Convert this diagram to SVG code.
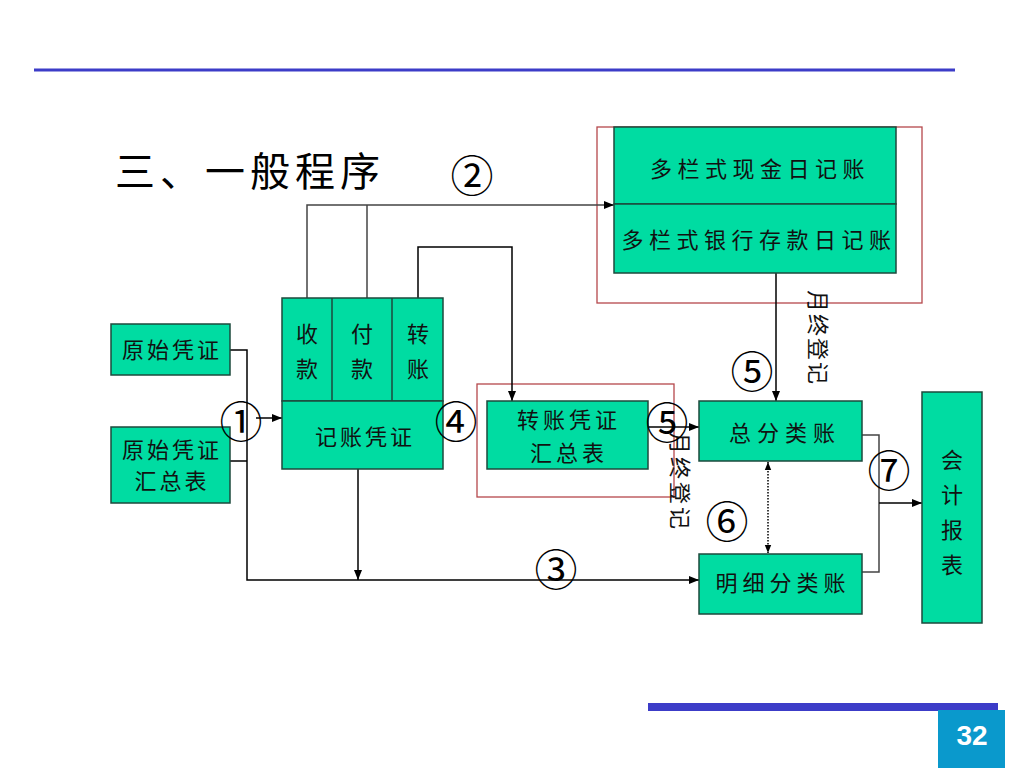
<svg xmlns="http://www.w3.org/2000/svg" width="1024" height="768" viewBox="0 0 1024 768">
<defs>
<marker id="arr" viewBox="0 0 10 10" refX="10" refY="5" markerWidth="10" markerHeight="10" markerUnits="userSpaceOnUse" orient="auto-start-reverse">
<path d="M0,1 L10,5 L0,9 z" fill="#000"/>
</marker>
<marker id="arrs" viewBox="0 0 10 10" refX="10" refY="5" markerWidth="8" markerHeight="8" markerUnits="userSpaceOnUse" orient="auto-start-reverse">
<path d="M0,1 L10,5 L0,9 z" fill="#000"/>
</marker>
<style>
.box{fill:#00DCA2;stroke:#1d4a3c;stroke-width:1.5}
.red{fill:none;stroke:#b5484c;stroke-width:1.3}
.t{font-family:"Noto Sans CJK SC","Noto Sans CJK JP",sans-serif;font-size:22px;fill:#111;text-anchor:middle}
.v{font-family:"Noto Sans CJK SC","Noto Sans CJK JP",sans-serif;font-size:22px;fill:#111;text-anchor:start}
.n{font-family:"Noto Sans CJK SC","Noto Sans CJK JP",sans-serif;font-size:43px;fill:#000;text-anchor:middle}
.c{fill:none;stroke:#000;stroke-width:1.5}
.c2{fill:none;stroke:#444;stroke-width:1.5}
</style>
</defs>
<rect width="1024" height="768" fill="#fff"/>
<rect x="34" y="68.5" width="921" height="3" fill="#3c3cc8"/>
<rect x="648" y="703" width="350" height="8" fill="#3c3cc8"/>
<rect x="938" y="710" width="67" height="58" fill="#0a99cc"/>
<text x="972" y="745" font-family="Liberation Sans,Arial,sans-serif" font-size="28" font-weight="bold" fill="#fff" text-anchor="middle">32</text>
<text x="115" y="186" font-family="Noto Sans CJK SC,sans-serif" font-size="40" letter-spacing="5" fill="#000">三、一般程序</text>

<g id="frames">
<rect class="red" x="597" y="127" width="325" height="176"/>
<rect class="red" x="477" y="384" width="197" height="113"/>
</g>

<g id="connectors">
<path class="c" d="M230,350 H247 V580 H699" marker-end="url(#arr)"/>
<path class="c" d="M230,461 H247"/>
<path class="c" d="M256,418 H282" marker-end="url(#arr)"/>
<path class="c2" d="M307,298 V205 H614" marker-end="url(#arr)"/>
<path class="c2" d="M367,298 V205"/>
<path class="c" d="M418,298 V247 H512 V401" marker-end="url(#arr)"/>
<path class="c" d="M358,469 V580" marker-end="url(#arr)"/>
<path class="c" d="M776,273 V401" marker-end="url(#arr)"/>
<path class="c" d="M648,427 H699" marker-end="url(#arr)"/>
<path d="M768,462 V553" fill="none" stroke="#000" stroke-width="1.5" stroke-dasharray="1.5,1.5" marker-start="url(#arrs)" marker-end="url(#arrs)"/>
<path class="c2" d="M862,435 H879 V572 H862"/>
<path class="c" d="M879,503 H922" marker-end="url(#arr)"/>
</g>

<g id="n-yuanshi">
<rect class="box" x="111" y="324" width="119" height="51"/>
<text class="t" x="172" y="358" font-size="21" letter-spacing="3">原始凭证</text>
</g>
<g id="n-yuanshi-huizong">
<rect class="box" x="111" y="427" width="119" height="76"/>
<text class="t" x="172" y="458" font-size="21" letter-spacing="3">原始凭证</text>
<text class="t" x="172" y="489" font-size="21" letter-spacing="3">汇总表</text>
</g>
<g id="n-pingzheng">
<rect class="box" x="282" y="298" width="161" height="103"/>
<line x1="332" y1="298" x2="332" y2="401" stroke="#1d4a3c" stroke-width="1.5"/>
<line x1="392" y1="298" x2="392" y2="401" stroke="#1d4a3c" stroke-width="1.5"/>
<text class="t" x="307" y="342" font-size="24">收</text>
<text class="t" x="307" y="377" font-size="24">款</text>
<text class="t" x="362" y="342" font-size="24">付</text>
<text class="t" x="362" y="377" font-size="24">款</text>
<text class="t" x="418" y="342" font-size="24">转</text>
<text class="t" x="418" y="377" font-size="24">账</text>
</g>
<g id="n-jizhang">
<rect class="box" x="282" y="401" width="161" height="68"/>
<text class="t" x="365" y="445" font-size="24" letter-spacing="3">记账凭证</text>
</g>
<g id="n-riji">
<rect class="box" x="614" y="127" width="282" height="77"/>
<rect class="box" x="614" y="204" width="282" height="69"/>
<text class="t" x="760" y="177" letter-spacing="5.5">多栏式现金日记账</text>
<text class="t" x="759" y="248" letter-spacing="5.5">多栏式银行存款日记账</text>
</g>
<g id="n-zhuanzhang">
<rect class="box" x="487" y="401" width="161" height="68"/>
<text class="t" x="569" y="428" letter-spacing="4">转账凭证</text>
<text class="t" x="569" y="461" letter-spacing="4">汇总表</text>
</g>
<g id="n-zongfen">
<rect class="box" x="699" y="401" width="163" height="60"/>
<text class="t" x="785" y="441" letter-spacing="6">总分类账</text>
</g>
<g id="n-mingxi">
<rect class="box" x="699" y="554" width="163" height="60"/>
<text class="t" x="783" y="591" letter-spacing="5">明细分类账</text>
</g>
<g id="n-baobiao">
<rect class="box" x="922" y="392" width="60" height="231"/>
<text class="t" x="952" y="468" font-size="24">会</text>
<text class="t" x="952" y="503" font-size="24">计</text>
<text class="t" x="952" y="538" font-size="24">报</text>
<text class="t" x="952" y="573" font-size="24">表</text>
</g>

<g id="labels">
<text class="v" transform="translate(810,290) rotate(90)" letter-spacing="2">月终登记</text>
<text class="v" transform="translate(672,432) rotate(90)" letter-spacing="3">月终登记</text>
<text class="n" x="241" y="438">①</text>
<text class="n" x="472" y="192" font-size="38">②</text>
<text class="n" x="556" y="586">③</text>
<text class="n" x="456" y="438">④</text>
<text class="n" x="752" y="388">⑤</text>
<text class="n" x="667" y="439">⑤</text>
<text class="n" x="727" y="538">⑥</text>
<text class="n" x="889" y="487">⑦</text>
</g>
</svg>
